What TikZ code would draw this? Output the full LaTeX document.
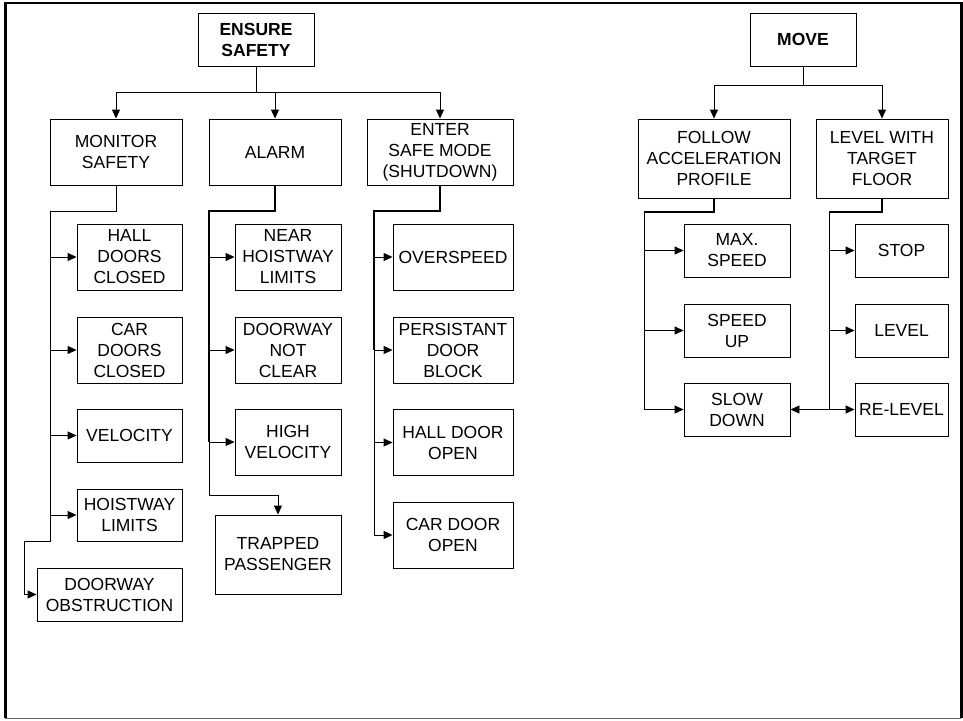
\documentclass[tikz,border=0pt]{standalone}
\usepackage{fontspec}
\setmainfont{Liberation Sans}
\usetikzlibrary{arrows.meta}
\tikzset{
  box/.style={draw=black, line width=0.9pt, rectangle, inner sep=0pt, align=center,
    font=\fontsize{17.5}{21}\selectfont},
  topbox/.style={box, font=\fontsize{17.5}{21}\selectfont\bfseries},
  conn/.style={line width=0.9pt, draw=black},
  thickconn/.style={line width=1.7pt, draw=black},
  arr/.style={conn, -{Triangle[length=9pt,width=8pt]}},
}
\begin{document}
\begin{tikzpicture}[x=1pt, y=-1pt]
\useasboundingbox (0,0) rectangle (963,720);
% frame
\draw[line width=1pt, draw=black!60] (5,718) -- (961,718);
\draw[line width=2pt] (5,3) -- (961,3);
\draw[line width=3pt] (5,2) -- (5,718);
\draw[line width=3pt] (961,2) -- (961,718);

% top level
\node[topbox, minimum width=116pt, minimum height=53pt] (es) at (256,39.5) {ENSURE\\SAFETY};
\node[topbox, minimum width=106pt, minimum height=53pt] (mv) at (803,39.5) {MOVE};

% second level
\node[box, minimum width=132pt, minimum height=66pt] (ms) at (116,152) {MONITOR\\SAFETY};
\node[box, minimum width=132pt, minimum height=66pt] (al) at (275,152) {ALARM};
\node[box, minimum width=146pt, minimum height=66pt] (en) at (440,152) {ENTER\\SAFE MODE\\(SHUTDOWN)};
\node[box, minimum width=152pt, minimum height=79pt] (fa) at (714,158.5) {FOLLOW\\ACCELERATION\\PROFILE};
\node[box, minimum width=132pt, minimum height=79pt] (lv) at (882,158.5) {LEVEL WITH\\TARGET\\FLOOR};

% monitor safety children
\node[box, minimum width=105pt, minimum height=66pt] (hd) at (129.5,257) {HALL\\DOORS\\CLOSED};
\node[box, minimum width=105pt, minimum height=66pt] (cd) at (129.5,350) {CAR\\DOORS\\CLOSED};
\node[box, minimum width=105pt, minimum height=53pt] (ve) at (129.5,435.5) {VELOCITY};
\node[box, minimum width=105pt, minimum height=52pt] (hl) at (129.5,515) {HOISTWAY\\LIMITS};
\node[box, minimum width=145pt, minimum height=53pt] (dob) at (109.5,594.5) {DOORWAY\\OBSTRUCTION};

% alarm children
\node[box, minimum width=106pt, minimum height=66pt] (nh) at (288,257) {NEAR\\HOISTWAY\\LIMITS};
\node[box, minimum width=106pt, minimum height=66pt] (dn) at (288,350) {DOORWAY\\NOT\\CLEAR};
\node[box, minimum width=106pt, minimum height=66pt] (hv) at (288,442) {HIGH\\VELOCITY};
\node[box, minimum width=126pt, minimum height=79pt] (tp) at (278,554.5) {TRAPPED\\PASSENGER};

% safe mode children
\node[box, minimum width=120pt, minimum height=66pt] (ov) at (453,257) {OVERSPEED};
\node[box, minimum width=120pt, minimum height=66pt] (pd) at (453,350) {PERSISTANT\\DOOR\\BLOCK};
\node[box, minimum width=120pt, minimum height=66pt] (hdo) at (453,442.5) {HALL DOOR\\OPEN};
\node[box, minimum width=120pt, minimum height=66pt] (cdo) at (453,535) {CAR DOOR\\OPEN};

% move children
\node[box, minimum width=106pt, minimum height=53pt] (msp) at (737,250.5) {MAX.\\SPEED};
\node[box, minimum width=106pt, minimum height=53pt] (su) at (737,330.5) {SPEED\\UP};
\node[box, minimum width=106pt, minimum height=53pt] (sd) at (737,409.5) {SLOW\\DOWN};
\node[box, minimum width=93pt, minimum height=53pt] (st) at (901.5,250.5) {STOP};
\node[box, minimum width=93pt, minimum height=53pt] (lvl) at (901.5,330.5) {LEVEL};
\node[box, minimum width=93pt, minimum height=53pt] (rl) at (901.5,409.5) {RE-LEVEL};

% junction coordinates
\coordinate (esbus) at (256,92);
\coordinate (mvbus) at (803,85);
\coordinate (msj) at (50,211);
\coordinate (msk) at (50,541);
\coordinate (msl) at (24,541);
\coordinate (alj) at (209,211);
\coordinate (alm) at (209,442);
\coordinate (alk) at (209,495);
\coordinate (enj) at (374,211);
\coordinate (enm) at (374,350);
\coordinate (faj) at (644,212);
\coordinate (lvj) at (829,212);
\coordinate (lvk) at (829,409.5);

% top connectors
\draw[conn] (es.south) -- (esbus);
\draw[arr] (esbus) -| (ms.north);
\draw[arr] (esbus) -| (al.north);
\draw[arr] (esbus) -| (en.north);
\draw[conn] (mv.south) -- (mvbus);
\draw[arr] (mvbus) -| (fa.north);
\draw[arr] (mvbus) -| (lv.north);

% monitor safety
\draw[conn] (ms.south) |- (msj);
\draw[arr] (msj) |- (hd.west);
\draw[arr] (msj) |- (cd.west);
\draw[arr] (msj) |- (ve.west);
\draw[arr] (msj) |- (hl.west);
\draw[arr] (msj) -- (msk) -- (msl) |- (dob.west);

% alarm
\draw[thickconn] (al.south) |- (alj) -- (alm);
\draw[arr] (alj) |- (nh.west);
\draw[arr] (alj) |- (dn.west);
\draw[arr] (alj) |- (hv.west);
\draw[arr] (alj) -- (alk) -| (tp.north);

% safe mode
\draw[thickconn] (en.south) |- (enj) -- (enm);
\draw[arr] (enj) |- (ov.west);
\draw[arr] (enj) |- (pd.west);
\draw[arr] (enj) |- (hdo.west);
\draw[arr] (enj) |- (cdo.west);

% follow acceleration profile
\draw[thickconn] (fa.south) |- (faj);
\draw[arr] (faj) |- (msp.west);
\draw[arr] (faj) |- (su.west);
\draw[arr] (faj) |- (sd.west);

% level with target floor
\draw[thickconn] (lv.south) |- (lvj);
\draw[arr] (lvj) |- (st.west);
\draw[arr] (lvj) |- (lvl.west);
\draw[arr] (lvj) |- (rl.west);
\draw[arr] (lvk) -- (sd.east);
\end{tikzpicture}
\end{document}
